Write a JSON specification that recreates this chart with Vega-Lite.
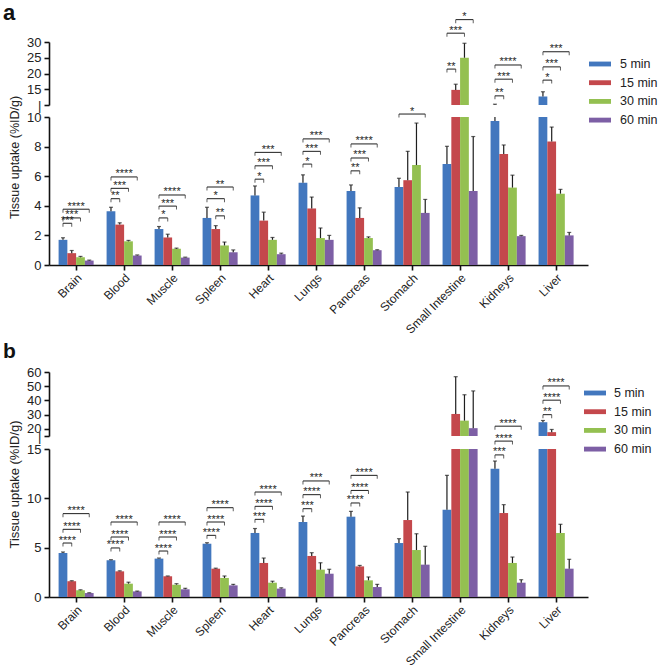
{
"$schema": "https://vega.github.io/schema/vega-lite/v6.json",
"padding": {"left": 3, "top": 2, "right": 0, "bottom": 0},
"config": {
  "view": {"stroke": null},
  "font": "Liberation Sans",
  "axis": {"domainColor": "#111", "domainWidth": 1.6, "tickColor": "#111", "tickWidth": 1.6, "tickSize": 5, "labelFontSize": 13, "labelColor": "#222", "labelPadding": 3, "grid": false, "titleColor": "#222", "labelOverlap": false},
  "legend": {"labelFontSize": 12.5, "labelColor": "#222"}
},
"datasets": {
  "a": [
    {"organ":"Brain","time":"5 min","v":1.70,"hi":1.84},{"organ":"Brain","time":"15 min","v":0.80,"hi":0.98},{"organ":"Brain","time":"30 min","v":0.52,"hi":0.58},{"organ":"Brain","time":"60 min","v":0.30,"hi":0.33},
    {"organ":"Blood","time":"5 min","v":3.64,"hi":3.90},{"organ":"Blood","time":"15 min","v":2.73,"hi":2.85},{"organ":"Blood","time":"30 min","v":1.60,"hi":1.66},{"organ":"Blood","time":"60 min","v":0.64,"hi":0.68},
    {"organ":"Muscle","time":"5 min","v":2.43,"hi":2.60},{"organ":"Muscle","time":"15 min","v":1.86,"hi":2.08},{"organ":"Muscle","time":"30 min","v":1.09,"hi":1.14},{"organ":"Muscle","time":"60 min","v":0.50,"hi":0.53},
    {"organ":"Spleen","time":"5 min","v":3.18,"hi":3.90},{"organ":"Spleen","time":"15 min","v":2.43,"hi":2.66},{"organ":"Spleen","time":"30 min","v":1.32,"hi":1.55},{"organ":"Spleen","time":"60 min","v":0.86,"hi":1.02},
    {"organ":"Heart","time":"5 min","v":4.70,"hi":5.34},{"organ":"Heart","time":"15 min","v":3.00,"hi":3.57},{"organ":"Heart","time":"30 min","v":1.70,"hi":1.86},{"organ":"Heart","time":"60 min","v":0.73,"hi":0.80},
    {"organ":"Lungs","time":"5 min","v":5.55,"hi":6.09},{"organ":"Lungs","time":"15 min","v":3.82,"hi":4.59},{"organ":"Lungs","time":"30 min","v":1.82,"hi":2.50},{"organ":"Lungs","time":"60 min","v":1.70,"hi":2.00},
    {"organ":"Pancreas","time":"5 min","v":5.00,"hi":5.41},{"organ":"Pancreas","time":"15 min","v":3.18,"hi":3.86},{"organ":"Pancreas","time":"30 min","v":1.82,"hi":1.90},{"organ":"Pancreas","time":"60 min","v":1.00,"hi":1.03},
    {"organ":"Stomach","time":"5 min","v":5.27,"hi":5.86},{"organ":"Stomach","time":"15 min","v":5.73,"hi":7.68},{"organ":"Stomach","time":"30 min","v":6.75,"hi":9.59},{"organ":"Stomach","time":"60 min","v":3.52,"hi":4.43},
    {"organ":"Small Intestine","time":"5 min","v":6.82,"hi":8.02},{"organ":"Small Intestine","time":"15 min","v":14.8,"hi":16.6},{"organ":"Small Intestine","time":"30 min","v":25.0,"hi":29.6},{"organ":"Small Intestine","time":"60 min","v":5.00,"hi":8.68},
    {"organ":"Kidneys","time":"5 min","v":9.73,"hi":10.25},{"organ":"Kidneys","time":"15 min","v":7.50,"hi":8.11},{"organ":"Kidneys","time":"30 min","v":5.23,"hi":6.07},{"organ":"Kidneys","time":"60 min","v":1.95,"hi":2.00},
    {"organ":"Liver","time":"5 min","v":12.7,"hi":14.2},{"organ":"Liver","time":"15 min","v":8.34,"hi":9.32},{"organ":"Liver","time":"30 min","v":4.82,"hi":5.11},{"organ":"Liver","time":"60 min","v":2.00,"hi":2.20}
  ],
  "aa": [
    {"organ":"Brain","a":0,"b":1,"y":2.82,"s":"***"},{"organ":"Brain","a":0,"b":2,"y":3.18,"s":"***"},{"organ":"Brain","a":0,"b":3,"y":3.77,"s":"****"},
    {"organ":"Blood","a":0,"b":1,"y":4.48,"s":"**"},{"organ":"Blood","a":0,"b":2,"y":5.18,"s":"***"},{"organ":"Blood","a":0,"b":3,"y":5.95,"s":"****"},
    {"organ":"Muscle","a":0,"b":1,"y":3.18,"s":"*"},{"organ":"Muscle","a":0,"b":2,"y":3.98,"s":"***"},{"organ":"Muscle","a":0,"b":3,"y":4.73,"s":"****"},
    {"organ":"Spleen","a":1,"b":2,"y":3.32,"s":"**"},{"organ":"Spleen","a":0,"b":2,"y":4.48,"s":"*"},{"organ":"Spleen","a":0,"b":3,"y":5.27,"s":"**"},
    {"organ":"Heart","a":0,"b":1,"y":5.80,"s":"*"},{"organ":"Heart","a":0,"b":2,"y":6.70,"s":"***"},{"organ":"Heart","a":0,"b":3,"y":7.61,"s":"***"},
    {"organ":"Lungs","a":0,"b":1,"y":6.82,"s":"*"},{"organ":"Lungs","a":0,"b":2,"y":7.68,"s":"***"},{"organ":"Lungs","a":0,"b":3,"y":8.52,"s":"***"},
    {"organ":"Pancreas","a":0,"b":1,"y":6.36,"s":"**"},{"organ":"Pancreas","a":0,"b":2,"y":7.23,"s":"***"},{"organ":"Pancreas","a":0,"b":3,"y":8.18,"s":"****"},
    {"organ":"Stomach","a":0,"b":3,"y":10.2,"s":"*"},
    {"organ":"Small Intestine","a":0,"b":1,"y":21.4,"s":"**"},{"organ":"Small Intestine","a":0,"b":2,"y":32.8,"s":"***"},{"organ":"Small Intestine","a":1,"b":3,"y":37.1,"s":"*"},
    {"organ":"Kidneys","a":0,"b":1,"y":12.9,"s":"**"},{"organ":"Kidneys","a":0,"b":2,"y":18.2,"s":"***"},{"organ":"Kidneys","a":0,"b":3,"y":22.7,"s":"****"},
    {"organ":"Liver","a":0,"b":1,"y":17.9,"s":"*"},{"organ":"Liver","a":0,"b":2,"y":22.1,"s":"***"},{"organ":"Liver","a":0,"b":3,"y":26.9,"s":"***"}
  ],
  "b": [
    {"organ":"Brain","time":"5 min","v":4.46,"hi":4.56},{"organ":"Brain","time":"15 min","v":1.60,"hi":1.65},{"organ":"Brain","time":"30 min","v":0.68,"hi":0.73},{"organ":"Brain","time":"60 min","v":0.40,"hi":0.43},
    {"organ":"Blood","time":"5 min","v":3.72,"hi":3.78},{"organ":"Blood","time":"15 min","v":2.60,"hi":2.65},{"organ":"Blood","time":"30 min","v":1.35,"hi":1.50},{"organ":"Blood","time":"60 min","v":0.57,"hi":0.60},
    {"organ":"Muscle","time":"5 min","v":3.89,"hi":3.95},{"organ":"Muscle","time":"15 min","v":2.10,"hi":2.13},{"organ":"Muscle","time":"30 min","v":1.25,"hi":1.35},{"organ":"Muscle","time":"60 min","v":0.78,"hi":0.88},
    {"organ":"Spleen","time":"5 min","v":5.40,"hi":5.50},{"organ":"Spleen","time":"15 min","v":2.87,"hi":2.92},{"organ":"Spleen","time":"30 min","v":1.93,"hi":2.13},{"organ":"Spleen","time":"60 min","v":1.18,"hi":1.28},
    {"organ":"Heart","time":"5 min","v":6.49,"hi":6.94},{"organ":"Heart","time":"15 min","v":3.45,"hi":3.95},{"organ":"Heart","time":"30 min","v":1.45,"hi":1.60},{"organ":"Heart","time":"60 min","v":0.85,"hi":0.93},
    {"organ":"Lungs","time":"5 min","v":7.60,"hi":8.20},{"organ":"Lungs","time":"15 min","v":4.16,"hi":4.49},{"organ":"Lungs","time":"30 min","v":2.77,"hi":3.47},{"organ":"Lungs","time":"60 min","v":2.36,"hi":2.81},
    {"organ":"Pancreas","time":"5 min","v":8.14,"hi":8.68},{"organ":"Pancreas","time":"15 min","v":3.10,"hi":3.20},{"organ":"Pancreas","time":"30 min","v":1.69,"hi":2.03},{"organ":"Pancreas","time":"60 min","v":1.01,"hi":1.28},
    {"organ":"Stomach","time":"5 min","v":5.47,"hi":5.91},{"organ":"Stomach","time":"15 min","v":7.80,"hi":10.64},{"organ":"Stomach","time":"30 min","v":4.76,"hi":6.41},{"organ":"Stomach","time":"60 min","v":3.28,"hi":5.14},
    {"organ":"Small Intestine","time":"5 min","v":8.85,"hi":12.33},{"organ":"Small Intestine","time":"15 min","v":30.5,"hi":56.7},{"organ":"Small Intestine","time":"30 min","v":25.8,"hi":44.0},{"organ":"Small Intestine","time":"60 min","v":20.5,"hi":46.7},
    {"organ":"Kidneys","time":"5 min","v":13.0,"hi":13.78},{"organ":"Kidneys","time":"15 min","v":8.51,"hi":9.36},{"organ":"Kidneys","time":"30 min","v":3.45,"hi":4.05},{"organ":"Kidneys","time":"60 min","v":1.45,"hi":1.75},
    {"organ":"Liver","time":"5 min","v":24.7,"hi":25.9},{"organ":"Liver","time":"15 min","v":17.7,"hi":19.6},{"organ":"Liver","time":"30 min","v":6.49,"hi":7.37},{"organ":"Liver","time":"60 min","v":2.87,"hi":3.82}
  ],
  "ba": [
    {"organ":"Brain","a":0,"b":1,"y":5.47,"s":"****"},{"organ":"Brain","a":0,"b":2,"y":6.86,"s":"****"},{"organ":"Brain","a":0,"b":3,"y":8.45,"s":"****"},
    {"organ":"Blood","a":0,"b":1,"y":4.97,"s":"****"},{"organ":"Blood","a":0,"b":2,"y":6.08,"s":"****"},{"organ":"Blood","a":0,"b":3,"y":7.60,"s":"****"},
    {"organ":"Muscle","a":0,"b":1,"y":4.66,"s":"****"},{"organ":"Muscle","a":0,"b":2,"y":6.08,"s":"****"},{"organ":"Muscle","a":0,"b":3,"y":7.60,"s":"****"},
    {"organ":"Spleen","a":0,"b":1,"y":6.25,"s":"****"},{"organ":"Spleen","a":0,"b":2,"y":7.60,"s":"****"},{"organ":"Spleen","a":0,"b":3,"y":9.05,"s":"****"},
    {"organ":"Heart","a":0,"b":1,"y":7.87,"s":"***"},{"organ":"Heart","a":0,"b":2,"y":9.19,"s":"****"},{"organ":"Heart","a":0,"b":3,"y":10.64,"s":"****"},
    {"organ":"Lungs","a":0,"b":1,"y":8.95,"s":"***"},{"organ":"Lungs","a":0,"b":2,"y":10.37,"s":"****"},{"organ":"Lungs","a":0,"b":3,"y":11.76,"s":"***"},
    {"organ":"Pancreas","a":0,"b":1,"y":9.53,"s":"****"},{"organ":"Pancreas","a":0,"b":2,"y":10.8,"s":"****"},{"organ":"Pancreas","a":0,"b":3,"y":12.33,"s":"****"},
    {"organ":"Kidneys","a":0,"b":1,"y":14.4,"s":"***"},{"organ":"Kidneys","a":0,"b":2,"y":15.8,"s":"****"},{"organ":"Kidneys","a":0,"b":3,"y":21.9,"s":"****"},
    {"organ":"Liver","a":0,"b":1,"y":30.0,"s":"**"},{"organ":"Liver","a":0,"b":2,"y":40.2,"s":"****"},{"organ":"Liver","a":0,"b":3,"y":50.2,"s":"****"}
  ]
},
"spacing": 5,
"bounds": "full",
"resolve": {"scale": {"xOffset": "independent"}, "legend": {"color": "independent"}},
"vconcat": [
{
  "spacing": 12,
  "bounds": "flush",
  "resolve": {"scale": {"xOffset": "independent"}, "legend": {"color": "independent"}},
  "vconcat": [
  {
    "width": 539, "height": 63,
    "title": {"text": "a", "anchor": "start", "frame": "group", "fontSize": 22, "fontWeight": "bold", "color": "#111", "dx": -46, "dy": 18},
    "encoding": {"x": {"field": "organ", "type": "nominal", "sort": null, "scale": {"domain": ["Brain","Blood","Muscle","Spleen","Heart","Lungs","Pancreas","Stomach","Small Intestine","Kidneys","Liver"], "paddingInner": 0.27, "paddingOuter": 0.25, "align": 0.4}, "axis": null}},
    "resolve": {"scale": {"xOffset": "independent"}},
    "layer": [
      {"data": {"name": "a"}, "mark": {"type": "bar", "clip": true},
       "encoding": {
         "xOffset": {"field": "time", "type": "nominal", "scale": {"domain": ["5 min","15 min","30 min","60 min"], "paddingInner": 0, "paddingOuter": 0}},
         "y": {"field": "v", "type": "quantitative", "scale": {"domain": [10, 30], "nice": false, "zero": false},
               "axis": {"values": [10, 15, 20, 25, 30], "title": null, "labelExpr": "datum.value == 10 ? '|' : datum.label",
                        "encode": {"labels": {"update": {"angle": {"signal": "datum.value == 10 ? -45 : 0"}, "align": {"signal": "datum.value == 10 ? 'center' : 'right'"}, "dx": {"signal": "datum.value == 10 ? 8 : 0"}, "fontSize": {"signal": "datum.value == 10 ? 11 : 13"}}},
                                   "ticks": {"update": {"opacity": {"signal": "datum.value == 10 ? 0 : 1"}}}}}},
         "color": {"field": "time", "type": "nominal", "scale": {"domain": ["5 min","15 min","30 min","60 min"], "range": ["#4277BE","#C4484C","#94C051","#7D5FA5"]},
                   "legend": {"orient": "none", "legendX": 540, "legendY": 11, "title": null, "symbolType": "M-1,-0.22H1V0.22H-1Z", "symbolSize": 484, "symbolStrokeWidth": 0, "labelOffset": 9, "rowPadding": 0.7}}}},
      {"data": {"name": "a"}, "mark": {"type": "rule", "clip": true, "color": "#1e1e1e", "strokeWidth": 1.2},
       "encoding": {
         "xOffset": {"field": "time", "type": "nominal", "scale": {"domain": ["5 min","15 min","30 min","60 min"], "paddingInner": 0, "paddingOuter": 0}},
         "y": {"field": "v", "type": "quantitative", "scale": {"domain": [10, 30], "nice": false, "zero": false},
               "axis": {"values": [10, 15, 20, 25, 30], "title": null, "labelExpr": "datum.value == 10 ? '|' : datum.label",
                        "encode": {"labels": {"update": {"angle": {"signal": "datum.value == 10 ? -45 : 0"}, "align": {"signal": "datum.value == 10 ? 'center' : 'right'"}, "dx": {"signal": "datum.value == 10 ? 8 : 0"}, "fontSize": {"signal": "datum.value == 10 ? 11 : 13"}}},
                                   "ticks": {"update": {"opacity": {"signal": "datum.value == 10 ? 0 : 1"}}}}}},
         "y2": {"field": "hi"}}},
      {"data": {"name": "a"}, "mark": {"type": "tick", "clip": true, "orient": "horizontal", "size": 4, "thickness": 1.2, "color": "#1e1e1e"},
       "encoding": {
         "xOffset": {"field": "time", "type": "nominal", "scale": {"domain": ["5 min","15 min","30 min","60 min"], "paddingInner": 0, "paddingOuter": 0}},
         "y": {"field": "hi", "type": "quantitative", "scale": {"domain": [10, 30], "nice": false, "zero": false},
               "axis": {"values": [10, 15, 20, 25, 30], "title": null, "labelExpr": "datum.value == 10 ? '|' : datum.label",
                        "encode": {"labels": {"update": {"angle": {"signal": "datum.value == 10 ? -45 : 0"}, "align": {"signal": "datum.value == 10 ? 'center' : 'right'"}, "dx": {"signal": "datum.value == 10 ? 8 : 0"}, "fontSize": {"signal": "datum.value == 10 ? 11 : 13"}}},
                                   "ticks": {"update": {"opacity": {"signal": "datum.value == 10 ? 0 : 1"}}}}}}}},
      {"data": {"name": "aa"}, "transform": [{"filter": "datum.y > 11"}, {"fold": ["a", "b"], "as": ["end", "t"]}],
       "mark": {"type": "line", "color": "#1e1e1e", "strokeWidth": 1},
       "encoding": {
         "xOffset": {"field": "t", "type": "quantitative", "scale": {"domain": [-0.5, 3.5], "nice": false, "zero": false}},
         "y": {"field": "y", "type": "quantitative", "scale": {"domain": [10, 30], "nice": false, "zero": false},
               "axis": {"values": [10, 15, 20, 25, 30], "title": null, "labelExpr": "datum.value == 10 ? '|' : datum.label",
                        "encode": {"labels": {"update": {"angle": {"signal": "datum.value == 10 ? -45 : 0"}, "align": {"signal": "datum.value == 10 ? 'center' : 'right'"}, "dx": {"signal": "datum.value == 10 ? 8 : 0"}, "fontSize": {"signal": "datum.value == 10 ? 11 : 13"}}},
                                   "ticks": {"update": {"opacity": {"signal": "datum.value == 10 ? 0 : 1"}}}}}},
         "detail": [{"field": "organ"}, {"field": "y"}]}},
      {"data": {"name": "aa"}, "transform": [{"filter": "datum.y > 11"}, {"fold": ["a", "b"], "as": ["end", "t"]}],
       "mark": {"type": "tick", "orient": "vertical", "size": 3.5, "thickness": 1, "yOffset": 1.75, "color": "#1e1e1e"},
       "encoding": {
         "xOffset": {"field": "t", "type": "quantitative", "scale": {"domain": [-0.5, 3.5], "nice": false, "zero": false}},
         "y": {"field": "y", "type": "quantitative", "scale": {"domain": [10, 30], "nice": false, "zero": false},
               "axis": {"values": [10, 15, 20, 25, 30], "title": null, "labelExpr": "datum.value == 10 ? '|' : datum.label",
                        "encode": {"labels": {"update": {"angle": {"signal": "datum.value == 10 ? -45 : 0"}, "align": {"signal": "datum.value == 10 ? 'center' : 'right'"}, "dx": {"signal": "datum.value == 10 ? 8 : 0"}, "fontSize": {"signal": "datum.value == 10 ? 11 : 13"}}},
                                   "ticks": {"update": {"opacity": {"signal": "datum.value == 10 ? 0 : 1"}}}}}}}},
      {"data": {"name": "aa"}, "transform": [{"filter": "datum.y > 11"}, {"calculate": "(datum.a + datum.b) / 2", "as": "m"}],
       "mark": {"type": "text", "baseline": "alphabetic", "dy": 0.5, "fontSize": 11, "color": "#1e1e1e"},
       "encoding": {
         "xOffset": {"field": "m", "type": "quantitative", "scale": {"domain": [-0.5, 3.5], "nice": false, "zero": false}},
         "y": {"field": "y", "type": "quantitative", "scale": {"domain": [10, 30], "nice": false, "zero": false},
               "axis": {"values": [10, 15, 20, 25, 30], "title": null, "labelExpr": "datum.value == 10 ? '|' : datum.label",
                        "encode": {"labels": {"update": {"angle": {"signal": "datum.value == 10 ? -45 : 0"}, "align": {"signal": "datum.value == 10 ? 'center' : 'right'"}, "dx": {"signal": "datum.value == 10 ? 8 : 0"}, "fontSize": {"signal": "datum.value == 10 ? 11 : 13"}}},
                                   "ticks": {"update": {"opacity": {"signal": "datum.value == 10 ? 0 : 1"}}}}}},
         "text": {"field": "s"}}}
    ]
  },
  {
    "width": 539, "height": 148,
    "encoding": {"x": {"field": "organ", "type": "nominal", "sort": null, "scale": {"domain": ["Brain","Blood","Muscle","Spleen","Heart","Lungs","Pancreas","Stomach","Small Intestine","Kidneys","Liver"], "paddingInner": 0.27, "paddingOuter": 0.25, "align": 0.4}, "axis": {"title": null, "labelAngle": -45, "labelFontSize": 12, "labelPadding": 2}}},
    "resolve": {"scale": {"xOffset": "independent"}},
    "layer": [
      {"data": {"name": "a"}, "mark": {"type": "bar", "clip": true},
       "encoding": {
         "xOffset": {"field": "time", "type": "nominal", "scale": {"domain": ["5 min","15 min","30 min","60 min"], "paddingInner": 0, "paddingOuter": 0}},
         "y": {"field": "v", "type": "quantitative", "scale": {"domain": [0, 10], "nice": false, "zero": false},
               "axis": {"values": [0, 2, 4, 6, 8, 10, 10.01], "title": "Tissue uptake (%ID/g)", "titleFontSize": 12.5, "titleFontWeight": "normal", "titleY": 40, "titlePadding": 5, "labelExpr": "datum.value == 10.01 ? '|' : datum.label",
                        "encode": {"labels": {"update": {"angle": {"signal": "datum.value == 10.01 ? -45 : 0"}, "align": {"signal": "datum.value == 10.01 ? 'center' : 'right'"}, "dx": {"signal": "datum.value == 10.01 ? 8 : 0"}, "fontSize": {"signal": "datum.value == 10.01 ? 11 : 13"}}},
                                   "ticks": {"update": {"opacity": {"signal": "datum.value == 10.01 ? 0 : 1"}}}}}},
         "color": {"field": "time", "type": "nominal", "scale": {"domain": ["5 min","15 min","30 min","60 min"], "range": ["#4277BE","#C4484C","#94C051","#7D5FA5"]}, "legend": null}}},
      {"data": {"name": "a"}, "mark": {"type": "rule", "clip": true, "color": "#1e1e1e", "strokeWidth": 1.2},
       "encoding": {
         "xOffset": {"field": "time", "type": "nominal", "scale": {"domain": ["5 min","15 min","30 min","60 min"], "paddingInner": 0, "paddingOuter": 0}},
         "y": {"field": "v", "type": "quantitative", "scale": {"domain": [0, 10], "nice": false, "zero": false},
               "axis": {"values": [0, 2, 4, 6, 8, 10, 10.01], "title": "Tissue uptake (%ID/g)", "titleFontSize": 12.5, "titleFontWeight": "normal", "titleY": 40, "titlePadding": 5, "labelExpr": "datum.value == 10.01 ? '|' : datum.label",
                        "encode": {"labels": {"update": {"angle": {"signal": "datum.value == 10.01 ? -45 : 0"}, "align": {"signal": "datum.value == 10.01 ? 'center' : 'right'"}, "dx": {"signal": "datum.value == 10.01 ? 8 : 0"}, "fontSize": {"signal": "datum.value == 10.01 ? 11 : 13"}}},
                                   "ticks": {"update": {"opacity": {"signal": "datum.value == 10.01 ? 0 : 1"}}}}}},
         "y2": {"field": "hi"}}},
      {"data": {"name": "a"}, "mark": {"type": "tick", "clip": true, "orient": "horizontal", "size": 4, "thickness": 1.2, "color": "#1e1e1e"},
       "encoding": {
         "xOffset": {"field": "time", "type": "nominal", "scale": {"domain": ["5 min","15 min","30 min","60 min"], "paddingInner": 0, "paddingOuter": 0}},
         "y": {"field": "hi", "type": "quantitative", "scale": {"domain": [0, 10], "nice": false, "zero": false},
               "axis": {"values": [0, 2, 4, 6, 8, 10, 10.01], "title": "Tissue uptake (%ID/g)", "titleFontSize": 12.5, "titleFontWeight": "normal", "titleY": 40, "titlePadding": 5, "labelExpr": "datum.value == 10.01 ? '|' : datum.label",
                        "encode": {"labels": {"update": {"angle": {"signal": "datum.value == 10.01 ? -45 : 0"}, "align": {"signal": "datum.value == 10.01 ? 'center' : 'right'"}, "dx": {"signal": "datum.value == 10.01 ? 8 : 0"}, "fontSize": {"signal": "datum.value == 10.01 ? 11 : 13"}}},
                                   "ticks": {"update": {"opacity": {"signal": "datum.value == 10.01 ? 0 : 1"}}}}}}}},
      {"data": {"name": "aa"}, "transform": [{"filter": "datum.y <= 11"}, {"fold": ["a", "b"], "as": ["end", "t"]}],
       "mark": {"type": "line", "color": "#1e1e1e", "strokeWidth": 1},
       "encoding": {
         "xOffset": {"field": "t", "type": "quantitative", "scale": {"domain": [-0.5, 3.5], "nice": false, "zero": false}},
         "y": {"field": "y", "type": "quantitative", "scale": {"domain": [0, 10], "nice": false, "zero": false},
               "axis": {"values": [0, 2, 4, 6, 8, 10, 10.01], "title": "Tissue uptake (%ID/g)", "titleFontSize": 12.5, "titleFontWeight": "normal", "titleY": 40, "titlePadding": 5, "labelExpr": "datum.value == 10.01 ? '|' : datum.label",
                        "encode": {"labels": {"update": {"angle": {"signal": "datum.value == 10.01 ? -45 : 0"}, "align": {"signal": "datum.value == 10.01 ? 'center' : 'right'"}, "dx": {"signal": "datum.value == 10.01 ? 8 : 0"}, "fontSize": {"signal": "datum.value == 10.01 ? 11 : 13"}}},
                                   "ticks": {"update": {"opacity": {"signal": "datum.value == 10.01 ? 0 : 1"}}}}}},
         "detail": [{"field": "organ"}, {"field": "y"}]}},
      {"data": {"name": "aa"}, "transform": [{"filter": "datum.y <= 11"}, {"fold": ["a", "b"], "as": ["end", "t"]}],
       "mark": {"type": "tick", "orient": "vertical", "size": 3.5, "thickness": 1, "yOffset": 1.75, "color": "#1e1e1e"},
       "encoding": {
         "xOffset": {"field": "t", "type": "quantitative", "scale": {"domain": [-0.5, 3.5], "nice": false, "zero": false}},
         "y": {"field": "y", "type": "quantitative", "scale": {"domain": [0, 10], "nice": false, "zero": false},
               "axis": {"values": [0, 2, 4, 6, 8, 10, 10.01], "title": "Tissue uptake (%ID/g)", "titleFontSize": 12.5, "titleFontWeight": "normal", "titleY": 40, "titlePadding": 5, "labelExpr": "datum.value == 10.01 ? '|' : datum.label",
                        "encode": {"labels": {"update": {"angle": {"signal": "datum.value == 10.01 ? -45 : 0"}, "align": {"signal": "datum.value == 10.01 ? 'center' : 'right'"}, "dx": {"signal": "datum.value == 10.01 ? 8 : 0"}, "fontSize": {"signal": "datum.value == 10.01 ? 11 : 13"}}},
                                   "ticks": {"update": {"opacity": {"signal": "datum.value == 10.01 ? 0 : 1"}}}}}}}},
      {"data": {"name": "aa"}, "transform": [{"filter": "datum.y <= 11"}, {"calculate": "(datum.a + datum.b) / 2", "as": "m"}],
       "mark": {"type": "text", "baseline": "alphabetic", "dy": 0.5, "fontSize": 11, "color": "#1e1e1e"},
       "encoding": {
         "xOffset": {"field": "m", "type": "quantitative", "scale": {"domain": [-0.5, 3.5], "nice": false, "zero": false}},
         "y": {"field": "y", "type": "quantitative", "scale": {"domain": [0, 10], "nice": false, "zero": false},
               "axis": {"values": [0, 2, 4, 6, 8, 10, 10.01], "title": "Tissue uptake (%ID/g)", "titleFontSize": 12.5, "titleFontWeight": "normal", "titleY": 40, "titlePadding": 5, "labelExpr": "datum.value == 10.01 ? '|' : datum.label",
                        "encode": {"labels": {"update": {"angle": {"signal": "datum.value == 10.01 ? -45 : 0"}, "align": {"signal": "datum.value == 10.01 ? 'center' : 'right'"}, "dx": {"signal": "datum.value == 10.01 ? 8 : 0"}, "fontSize": {"signal": "datum.value == 10.01 ? 11 : 13"}}},
                                   "ticks": {"update": {"opacity": {"signal": "datum.value == 10.01 ? 0 : 1"}}}}}},
         "text": {"field": "s"}}}
    ]
  }
  ]
},
{
  "spacing": 13,
  "bounds": "flush",
  "resolve": {"scale": {"xOffset": "independent"}, "legend": {"color": "independent"}},
  "vconcat": [
  {
    "width": 539, "height": 64,
    "title": {"text": "b", "anchor": "start", "frame": "group", "fontSize": 21, "fontWeight": "bold", "color": "#111", "dx": -46},
    "encoding": {"x": {"field": "organ", "type": "nominal", "sort": null, "scale": {"domain": ["Brain","Blood","Muscle","Spleen","Heart","Lungs","Pancreas","Stomach","Small Intestine","Kidneys","Liver"], "paddingInner": 0.27, "paddingOuter": 0.25, "align": 0.4}, "axis": null}},
    "resolve": {"scale": {"xOffset": "independent"}},
    "layer": [
      {"data": {"name": "b"}, "mark": {"type": "bar", "clip": true},
       "encoding": {
         "xOffset": {"field": "time", "type": "nominal", "scale": {"domain": ["5 min","15 min","30 min","60 min"], "paddingInner": 0, "paddingOuter": 0}},
         "y": {"field": "v", "type": "quantitative", "scale": {"domain": [15, 60], "nice": false, "zero": false},
               "axis": {"values": [15, 20, 30, 40, 50, 60], "title": null, "labelExpr": "datum.value == 15 ? '|' : datum.label",
                        "encode": {"labels": {"update": {"angle": {"signal": "datum.value == 15 ? -45 : 0"}, "align": {"signal": "datum.value == 15 ? 'center' : 'right'"}, "dx": {"signal": "datum.value == 15 ? 8 : 0"}, "fontSize": {"signal": "datum.value == 15 ? 11 : 13"}}},
                                   "ticks": {"update": {"opacity": {"signal": "datum.value == 15 ? 0 : 1"}}}}}},
         "color": {"field": "time", "type": "nominal", "scale": {"domain": ["5 min","15 min","30 min","60 min"], "range": ["#4277BE","#C4484C","#94C051","#7D5FA5"]},
                   "legend": {"orient": "none", "legendX": 535, "legendY": 10, "title": null, "symbolType": "M-1,-0.22H1V0.22H-1Z", "symbolSize": 484, "symbolStrokeWidth": 0, "labelOffset": 8, "rowPadding": 0.7}}}},
      {"data": {"name": "b"}, "mark": {"type": "rule", "clip": true, "color": "#1e1e1e", "strokeWidth": 1.2},
       "encoding": {
         "xOffset": {"field": "time", "type": "nominal", "scale": {"domain": ["5 min","15 min","30 min","60 min"], "paddingInner": 0, "paddingOuter": 0}},
         "y": {"field": "v", "type": "quantitative", "scale": {"domain": [15, 60], "nice": false, "zero": false},
               "axis": {"values": [15, 20, 30, 40, 50, 60], "title": null, "labelExpr": "datum.value == 15 ? '|' : datum.label",
                        "encode": {"labels": {"update": {"angle": {"signal": "datum.value == 15 ? -45 : 0"}, "align": {"signal": "datum.value == 15 ? 'center' : 'right'"}, "dx": {"signal": "datum.value == 15 ? 8 : 0"}, "fontSize": {"signal": "datum.value == 15 ? 11 : 13"}}},
                                   "ticks": {"update": {"opacity": {"signal": "datum.value == 15 ? 0 : 1"}}}}}},
         "y2": {"field": "hi"}}},
      {"data": {"name": "b"}, "mark": {"type": "tick", "clip": true, "orient": "horizontal", "size": 4, "thickness": 1.2, "color": "#1e1e1e"},
       "encoding": {
         "xOffset": {"field": "time", "type": "nominal", "scale": {"domain": ["5 min","15 min","30 min","60 min"], "paddingInner": 0, "paddingOuter": 0}},
         "y": {"field": "hi", "type": "quantitative", "scale": {"domain": [15, 60], "nice": false, "zero": false},
               "axis": {"values": [15, 20, 30, 40, 50, 60], "title": null, "labelExpr": "datum.value == 15 ? '|' : datum.label",
                        "encode": {"labels": {"update": {"angle": {"signal": "datum.value == 15 ? -45 : 0"}, "align": {"signal": "datum.value == 15 ? 'center' : 'right'"}, "dx": {"signal": "datum.value == 15 ? 8 : 0"}, "fontSize": {"signal": "datum.value == 15 ? 11 : 13"}}},
                                   "ticks": {"update": {"opacity": {"signal": "datum.value == 15 ? 0 : 1"}}}}}}}},
      {"data": {"name": "ba"}, "transform": [{"filter": "datum.y > 16.5"}, {"fold": ["a", "b"], "as": ["end", "t"]}],
       "mark": {"type": "line", "color": "#1e1e1e", "strokeWidth": 1},
       "encoding": {
         "xOffset": {"field": "t", "type": "quantitative", "scale": {"domain": [-0.5, 3.5], "nice": false, "zero": false}},
         "y": {"field": "y", "type": "quantitative", "scale": {"domain": [15, 60], "nice": false, "zero": false},
               "axis": {"values": [15, 20, 30, 40, 50, 60], "title": null, "labelExpr": "datum.value == 15 ? '|' : datum.label",
                        "encode": {"labels": {"update": {"angle": {"signal": "datum.value == 15 ? -45 : 0"}, "align": {"signal": "datum.value == 15 ? 'center' : 'right'"}, "dx": {"signal": "datum.value == 15 ? 8 : 0"}, "fontSize": {"signal": "datum.value == 15 ? 11 : 13"}}},
                                   "ticks": {"update": {"opacity": {"signal": "datum.value == 15 ? 0 : 1"}}}}}},
         "detail": [{"field": "organ"}, {"field": "y"}]}},
      {"data": {"name": "ba"}, "transform": [{"filter": "datum.y > 16.5"}, {"fold": ["a", "b"], "as": ["end", "t"]}],
       "mark": {"type": "tick", "orient": "vertical", "size": 3.5, "thickness": 1, "yOffset": 1.75, "color": "#1e1e1e"},
       "encoding": {
         "xOffset": {"field": "t", "type": "quantitative", "scale": {"domain": [-0.5, 3.5], "nice": false, "zero": false}},
         "y": {"field": "y", "type": "quantitative", "scale": {"domain": [15, 60], "nice": false, "zero": false},
               "axis": {"values": [15, 20, 30, 40, 50, 60], "title": null, "labelExpr": "datum.value == 15 ? '|' : datum.label",
                        "encode": {"labels": {"update": {"angle": {"signal": "datum.value == 15 ? -45 : 0"}, "align": {"signal": "datum.value == 15 ? 'center' : 'right'"}, "dx": {"signal": "datum.value == 15 ? 8 : 0"}, "fontSize": {"signal": "datum.value == 15 ? 11 : 13"}}},
                                   "ticks": {"update": {"opacity": {"signal": "datum.value == 15 ? 0 : 1"}}}}}}}},
      {"data": {"name": "ba"}, "transform": [{"filter": "datum.y > 16.5"}, {"calculate": "(datum.a + datum.b) / 2", "as": "m"}],
       "mark": {"type": "text", "baseline": "alphabetic", "dy": 0.5, "fontSize": 11, "color": "#1e1e1e"},
       "encoding": {
         "xOffset": {"field": "m", "type": "quantitative", "scale": {"domain": [-0.5, 3.5], "nice": false, "zero": false}},
         "y": {"field": "y", "type": "quantitative", "scale": {"domain": [15, 60], "nice": false, "zero": false},
               "axis": {"values": [15, 20, 30, 40, 50, 60], "title": null, "labelExpr": "datum.value == 15 ? '|' : datum.label",
                        "encode": {"labels": {"update": {"angle": {"signal": "datum.value == 15 ? -45 : 0"}, "align": {"signal": "datum.value == 15 ? 'center' : 'right'"}, "dx": {"signal": "datum.value == 15 ? 8 : 0"}, "fontSize": {"signal": "datum.value == 15 ? 11 : 13"}}},
                                   "ticks": {"update": {"opacity": {"signal": "datum.value == 15 ? 0 : 1"}}}}}},
         "text": {"field": "s"}}}
    ]
  },
  {
    "width": 539, "height": 148,
    "encoding": {"x": {"field": "organ", "type": "nominal", "sort": null, "scale": {"domain": ["Brain","Blood","Muscle","Spleen","Heart","Lungs","Pancreas","Stomach","Small Intestine","Kidneys","Liver"], "paddingInner": 0.27, "paddingOuter": 0.25, "align": 0.4}, "axis": {"title": null, "labelAngle": -45, "labelFontSize": 12, "labelPadding": 2}}},
    "resolve": {"scale": {"xOffset": "independent"}},
    "layer": [
      {"data": {"name": "b"}, "mark": {"type": "bar", "clip": true},
       "encoding": {
         "xOffset": {"field": "time", "type": "nominal", "scale": {"domain": ["5 min","15 min","30 min","60 min"], "paddingInner": 0, "paddingOuter": 0}},
         "y": {"field": "v", "type": "quantitative", "scale": {"domain": [0, 15], "nice": false, "zero": false},
               "axis": {"values": [0, 5, 10, 15, 15.01], "title": "Tissue uptake (%ID/g)", "titleFontSize": 13, "titleFontWeight": "normal", "titleY": 35, "titlePadding": 5, "labelExpr": "datum.value == 15.01 ? '|' : datum.label",
                        "encode": {"labels": {"update": {"angle": {"signal": "datum.value == 15.01 ? -45 : 0"}, "align": {"signal": "datum.value == 15.01 ? 'center' : 'right'"}, "dx": {"signal": "datum.value == 15.01 ? 8 : 0"}, "fontSize": {"signal": "datum.value == 15.01 ? 11 : 13"}}},
                                   "ticks": {"update": {"opacity": {"signal": "datum.value == 15.01 ? 0 : 1"}}}}}},
         "color": {"field": "time", "type": "nominal", "scale": {"domain": ["5 min","15 min","30 min","60 min"], "range": ["#4277BE","#C4484C","#94C051","#7D5FA5"]}, "legend": null}}},
      {"data": {"name": "b"}, "mark": {"type": "rule", "clip": true, "color": "#1e1e1e", "strokeWidth": 1.2},
       "encoding": {
         "xOffset": {"field": "time", "type": "nominal", "scale": {"domain": ["5 min","15 min","30 min","60 min"], "paddingInner": 0, "paddingOuter": 0}},
         "y": {"field": "v", "type": "quantitative", "scale": {"domain": [0, 15], "nice": false, "zero": false},
               "axis": {"values": [0, 5, 10, 15, 15.01], "title": "Tissue uptake (%ID/g)", "titleFontSize": 13, "titleFontWeight": "normal", "titleY": 35, "titlePadding": 5, "labelExpr": "datum.value == 15.01 ? '|' : datum.label",
                        "encode": {"labels": {"update": {"angle": {"signal": "datum.value == 15.01 ? -45 : 0"}, "align": {"signal": "datum.value == 15.01 ? 'center' : 'right'"}, "dx": {"signal": "datum.value == 15.01 ? 8 : 0"}, "fontSize": {"signal": "datum.value == 15.01 ? 11 : 13"}}},
                                   "ticks": {"update": {"opacity": {"signal": "datum.value == 15.01 ? 0 : 1"}}}}}},
         "y2": {"field": "hi"}}},
      {"data": {"name": "b"}, "mark": {"type": "tick", "clip": true, "orient": "horizontal", "size": 4, "thickness": 1.2, "color": "#1e1e1e"},
       "encoding": {
         "xOffset": {"field": "time", "type": "nominal", "scale": {"domain": ["5 min","15 min","30 min","60 min"], "paddingInner": 0, "paddingOuter": 0}},
         "y": {"field": "hi", "type": "quantitative", "scale": {"domain": [0, 15], "nice": false, "zero": false},
               "axis": {"values": [0, 5, 10, 15, 15.01], "title": "Tissue uptake (%ID/g)", "titleFontSize": 13, "titleFontWeight": "normal", "titleY": 35, "titlePadding": 5, "labelExpr": "datum.value == 15.01 ? '|' : datum.label",
                        "encode": {"labels": {"update": {"angle": {"signal": "datum.value == 15.01 ? -45 : 0"}, "align": {"signal": "datum.value == 15.01 ? 'center' : 'right'"}, "dx": {"signal": "datum.value == 15.01 ? 8 : 0"}, "fontSize": {"signal": "datum.value == 15.01 ? 11 : 13"}}},
                                   "ticks": {"update": {"opacity": {"signal": "datum.value == 15.01 ? 0 : 1"}}}}}}}},
      {"data": {"name": "ba"}, "transform": [{"filter": "datum.y <= 16.5"}, {"fold": ["a", "b"], "as": ["end", "t"]}],
       "mark": {"type": "line", "color": "#1e1e1e", "strokeWidth": 1},
       "encoding": {
         "xOffset": {"field": "t", "type": "quantitative", "scale": {"domain": [-0.5, 3.5], "nice": false, "zero": false}},
         "y": {"field": "y", "type": "quantitative", "scale": {"domain": [0, 15], "nice": false, "zero": false},
               "axis": {"values": [0, 5, 10, 15, 15.01], "title": "Tissue uptake (%ID/g)", "titleFontSize": 13, "titleFontWeight": "normal", "titleY": 35, "titlePadding": 5, "labelExpr": "datum.value == 15.01 ? '|' : datum.label",
                        "encode": {"labels": {"update": {"angle": {"signal": "datum.value == 15.01 ? -45 : 0"}, "align": {"signal": "datum.value == 15.01 ? 'center' : 'right'"}, "dx": {"signal": "datum.value == 15.01 ? 8 : 0"}, "fontSize": {"signal": "datum.value == 15.01 ? 11 : 13"}}},
                                   "ticks": {"update": {"opacity": {"signal": "datum.value == 15.01 ? 0 : 1"}}}}}},
         "detail": [{"field": "organ"}, {"field": "y"}]}},
      {"data": {"name": "ba"}, "transform": [{"filter": "datum.y <= 16.5"}, {"fold": ["a", "b"], "as": ["end", "t"]}],
       "mark": {"type": "tick", "orient": "vertical", "size": 3.5, "thickness": 1, "yOffset": 1.75, "color": "#1e1e1e"},
       "encoding": {
         "xOffset": {"field": "t", "type": "quantitative", "scale": {"domain": [-0.5, 3.5], "nice": false, "zero": false}},
         "y": {"field": "y", "type": "quantitative", "scale": {"domain": [0, 15], "nice": false, "zero": false},
               "axis": {"values": [0, 5, 10, 15, 15.01], "title": "Tissue uptake (%ID/g)", "titleFontSize": 13, "titleFontWeight": "normal", "titleY": 35, "titlePadding": 5, "labelExpr": "datum.value == 15.01 ? '|' : datum.label",
                        "encode": {"labels": {"update": {"angle": {"signal": "datum.value == 15.01 ? -45 : 0"}, "align": {"signal": "datum.value == 15.01 ? 'center' : 'right'"}, "dx": {"signal": "datum.value == 15.01 ? 8 : 0"}, "fontSize": {"signal": "datum.value == 15.01 ? 11 : 13"}}},
                                   "ticks": {"update": {"opacity": {"signal": "datum.value == 15.01 ? 0 : 1"}}}}}}}},
      {"data": {"name": "ba"}, "transform": [{"filter": "datum.y <= 16.5"}, {"calculate": "(datum.a + datum.b) / 2", "as": "m"}],
       "mark": {"type": "text", "baseline": "alphabetic", "dy": 0.5, "fontSize": 11, "color": "#1e1e1e"},
       "encoding": {
         "xOffset": {"field": "m", "type": "quantitative", "scale": {"domain": [-0.5, 3.5], "nice": false, "zero": false}},
         "y": {"field": "y", "type": "quantitative", "scale": {"domain": [0, 15], "nice": false, "zero": false},
               "axis": {"values": [0, 5, 10, 15, 15.01], "title": "Tissue uptake (%ID/g)", "titleFontSize": 13, "titleFontWeight": "normal", "titleY": 35, "titlePadding": 5, "labelExpr": "datum.value == 15.01 ? '|' : datum.label",
                        "encode": {"labels": {"update": {"angle": {"signal": "datum.value == 15.01 ? -45 : 0"}, "align": {"signal": "datum.value == 15.01 ? 'center' : 'right'"}, "dx": {"signal": "datum.value == 15.01 ? 8 : 0"}, "fontSize": {"signal": "datum.value == 15.01 ? 11 : 13"}}},
                                   "ticks": {"update": {"opacity": {"signal": "datum.value == 15.01 ? 0 : 1"}}}}}},
         "text": {"field": "s"}}}
    ]
  }
  ]
}
]
}
